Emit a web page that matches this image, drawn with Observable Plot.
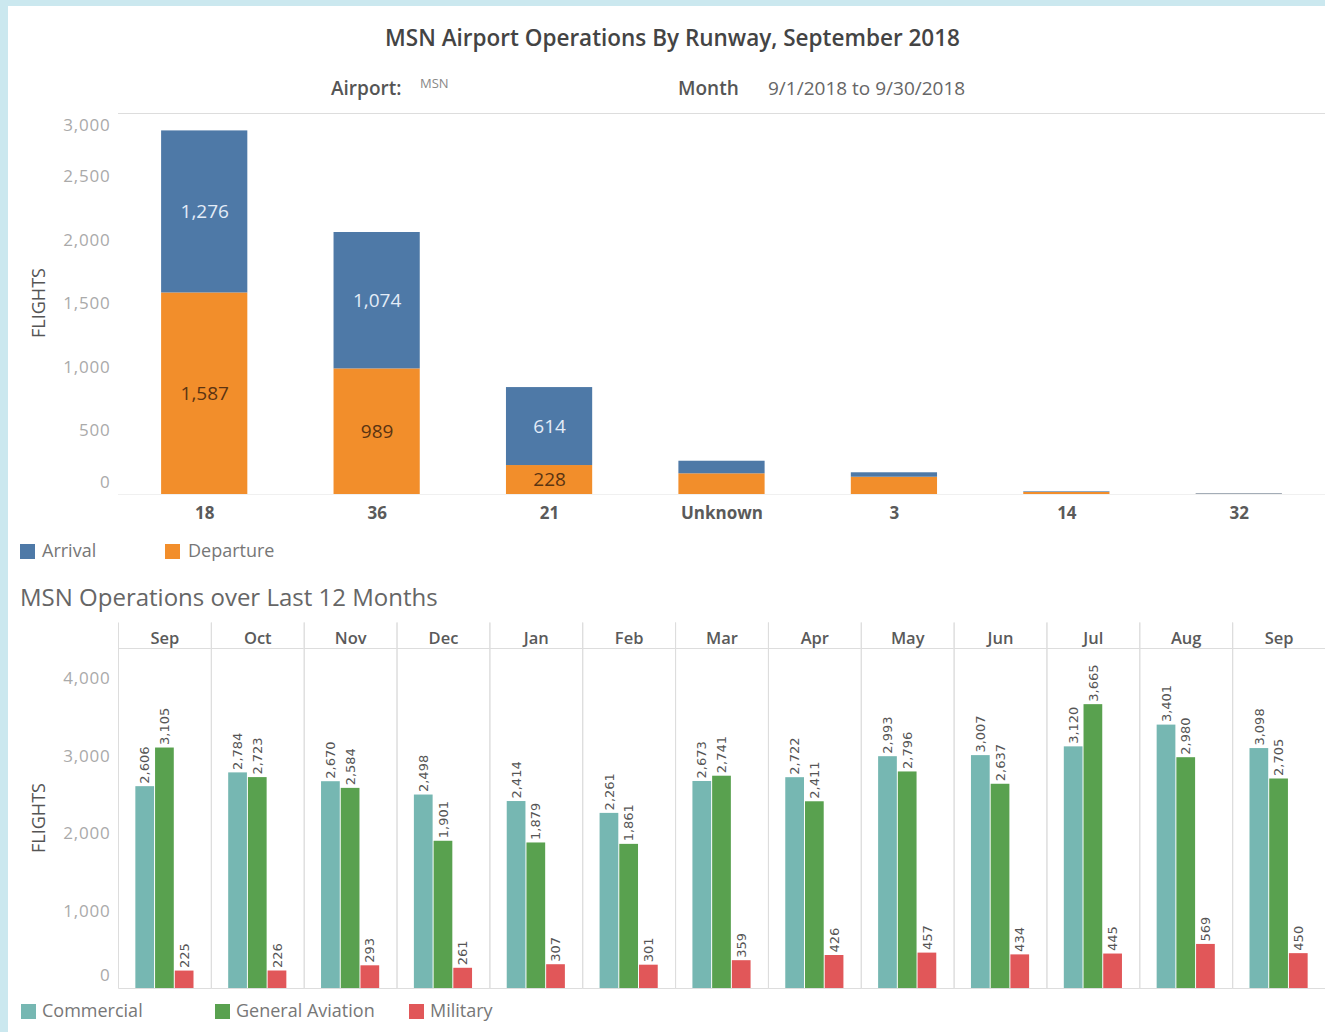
<!DOCTYPE html>
<html>
<head>
<meta charset="utf-8">
<script src="https://cdn.jsdelivr.net/npm/d3@7"></script>
<script src="https://cdn.jsdelivr.net/npm/@observablehq/plot@0.6"></script>
<style>
  html, body { margin: 0; padding: 0; }
  body { width: 1325px; height: 1032px; background: #cbe8ef; position: relative; overflow: hidden; font-family: "Open Sans", "Noto Sans", sans-serif; }
  #panel { position: absolute; left: 8px; top: 6px; right: 0; bottom: 0; background: #fff; }
  .abs { position: absolute; white-space: nowrap; }
  .sq { position: absolute; width: 15px; height: 15px; }
  .leg { position: absolute; font-size: 18px; color: #777; }
  svg { font-family: "Open Sans", "Noto Sans", sans-serif; }
</style>
</head>
<body>
<div id="panel"></div>
<div class="abs" style="left:0;width:1345px;top:22px;text-align:center;font-size:22.5px;font-weight:600;color:#444;">MSN Airport Operations By Runway, September 2018</div>
<div class="abs" style="left:331px;top:75px;font-size:19px;font-weight:600;color:#555;">Airport:</div>
<div class="abs" style="left:420px;top:74px;font-size:13px;color:#888;">MSN</div>
<div class="abs" style="left:678px;top:75px;font-size:19px;font-weight:600;color:#555;">Month</div>
<div class="abs" style="left:768px;top:75px;font-size:19px;color:#666;">9/1/2018 to 9/30/2018</div>
<div class="abs" style="left:38px;top:303px;font-size:18px;color:#555;transform:translate(-50%,-50%) rotate(-90deg);">FLIGHTS</div>
<div id="top" class="abs" style="left:0;top:100px;"></div>
<div class="sq" style="left:20px;top:544px;background:#4e79a7;"></div>
<div class="leg" style="left:42px;top:538px;">Arrival</div>
<div class="sq" style="left:165px;top:544px;background:#f28e2b;"></div>
<div class="leg" style="left:188px;top:538px;">Departure</div>
<div class="abs" style="left:20px;top:580px;font-size:24px;color:#666;">MSN Operations over Last 12 Months</div>
<div class="abs" style="left:38px;top:818px;font-size:18px;color:#555;transform:translate(-50%,-50%) rotate(-90deg);">FLIGHTS</div>
<div id="bottom" class="abs" style="left:0;top:615px;"></div>
<div class="sq" style="left:21px;top:1004px;background:#76b7b2;"></div>
<div class="leg" style="left:42px;top:998px;">Commercial</div>
<div class="sq" style="left:215px;top:1004px;background:#59a14f;"></div>
<div class="leg" style="left:236px;top:998px;">General Aviation</div>
<div class="sq" style="left:409px;top:1004px;background:#e15759;"></div>
<div class="leg" style="left:430px;top:998px;">Military</div>
<script>
// ---- Top chart data ----
const runways = ["18", "36", "21", "Unknown", "3", "14", "32"];
const arrivals = [1276, 1074, 614, 99, 35, 5, 4];
const departures = [1587, 989, 228, 163, 136, 16, 2];
const directions = ["Departure", "Arrival"];
const directionColors = ["#f28e2b", "#4e79a7"];
const topTicks = [0, 500, 1000, 1500, 2000, 2500, 3000];

// ---- Bottom chart data ----
const monthKeys = ["2017-09", "2017-10", "2017-11", "2017-12", "2018-01", "2018-02", "2018-03", "2018-04", "2018-05", "2018-06", "2018-07", "2018-08", "2018-09"];
const monthLabels = ["Sep", "Oct", "Nov", "Dec", "Jan", "Feb", "Mar", "Apr", "May", "Jun", "Jul", "Aug", "Sep"];
const categories = ["Commercial", "General Aviation", "Military"];
const categoryColors = ["#76b7b2", "#59a14f", "#e15759"];
const commercial = [2606, 2784, 2670, 2498, 2414, 2261, 2673, 2722, 2993, 3007, 3120, 3401, 3098];
const generalAviation = [3105, 2723, 2584, 1901, 1879, 1861, 2741, 2411, 2796, 2637, 3665, 2980, 2705];
const military = [225, 226, 293, 261, 307, 301, 359, 426, 457, 434, 445, 569, 450];
const bottomTicks = [0, 1000, 2000, 3000, 4000];

const fmt = d3.format(",");

const topData = runways.flatMap((r, i) => [
  {runway: r, dir: "Departure", v: departures[i]},
  {runway: r, dir: "Arrival", v: arrivals[i]}
]);

const topPlot = Plot.plot({
  width: 1325,
  height: 430,
  marginLeft: 118,
  marginRight: 0,
  marginTop: 13,
  marginBottom: 36,
  style: {background: "transparent", overflow: "visible"},
  x: {domain: runways, paddingInner: 0.5, paddingOuter: 0.25, round: false, label: null, tickSize: 0, tickPadding: 12},
  y: {domain: [0, 3000], ticks: topTicks, tickFormat: fmt, label: null, tickSize: 0, tickPadding: 8},
  color: {domain: directions, range: directionColors},
  marks: [
    Plot.ruleY([3000], {stroke: "#ddd"}),
    Plot.ruleY([0], {stroke: "#f0f0f0"}),
    Plot.barY(topData, Plot.stackY({x: "runway", y: "v", fill: "dir"})),
    Plot.text(topData, Plot.stackY({x: "runway", y: "v", z: "dir",
      text: d => (d.v >= 200 && d.dir === "Arrival") ? fmt(d.v) : "",
      fill: "#e3ecf7", fontSize: 19})),
    Plot.text(topData, Plot.stackY({x: "runway", y: "v", z: "dir",
      text: d => (d.v >= 200 && d.dir === "Departure") ? fmt(d.v) : "",
      fill: "#5b3412", fontSize: 19}))
  ]
});
const topY = d3.select(topPlot).selectAll("g[aria-label='y-axis tick label']")
  .attr("font-size", 17).attr("fill", "#aaa").attr("letter-spacing", 0.8);
topY.selectAll("text").filter(function() { return this.textContent === "3,000"; }).attr("dy", "0.7em");
topY.selectAll("text").filter(function() { return this.textContent === "0"; }).attr("dy", "-0.7em");
d3.select(topPlot).selectAll("g[aria-label='x-axis tick label']")
  .attr("font-size", 17).attr("font-weight", "bold").attr("fill", "#5a5a5a");
document.getElementById("top").appendChild(topPlot);

const bottomData = monthKeys.flatMap((m, i) => [
  {month: m, cat: "Commercial", v: commercial[i]},
  {month: m, cat: "General Aviation", v: generalAviation[i]},
  {month: m, cat: "Military", v: military[i]}
]);
const labelOf = new Map(monthKeys.map((k, i) => [k, monthLabels[i]]));

const facetW = (1325 - 118) / monthKeys.length;
const frameH = 340 + 26;

const bottomPlot = Plot.plot({
  width: 1325,
  height: 380,
  marginLeft: 118,
  marginRight: 0,
  marginTop: 33,
  marginBottom: 7,
  style: {background: "transparent", overflow: "visible"},
  fx: {domain: monthKeys, padding: 0, round: false, axis: "top", label: null, tickSize: 0, tickPadding: 5, tickFormat: k => labelOf.get(k)},
  x: {domain: categories, paddingInner: 0.05, paddingOuter: 0.88, round: false, axis: null},
  y: {domain: [0, 4390], ticks: bottomTicks, tickFormat: fmt, label: null, tickSize: 0, tickPadding: 8},
  color: {domain: categories, range: categoryColors},
  marks: [
    Plot.frame({stroke: "#ddd", insetTop: -26, strokeDasharray: `0 ${facetW} ${2 * frameH + facetW}`}),
    Plot.ruleY([4390], {stroke: "#ddd"}),
    Plot.barY(bottomData, {fx: "month", x: "cat", y: "v", fill: "cat"}),
    Plot.text(bottomData, {fx: "month", x: "cat", y: "v", text: d => fmt(d.v),
      rotate: -90, textAnchor: "start", lineAnchor: "middle", dy: -3,
      fontSize: 13, fill: "#555", fontFamily: "DejaVu Sans, sans-serif"})
  ]
});
const botY = d3.select(bottomPlot).selectAll("g[aria-label='y-axis tick label']")
  .attr("font-size", 17).attr("fill", "#aaa").attr("letter-spacing", 0.8);
botY.selectAll("text").filter(function() { return this.textContent === "0"; }).attr("dy", "-0.75em");
d3.select(bottomPlot).selectAll("g[aria-label='fx-axis tick label']")
  .attr("font-size", 16.5).attr("font-weight", 600).attr("fill", "#5a5a5a");
document.getElementById("bottom").appendChild(bottomPlot);
</script>
</body>
</html>
